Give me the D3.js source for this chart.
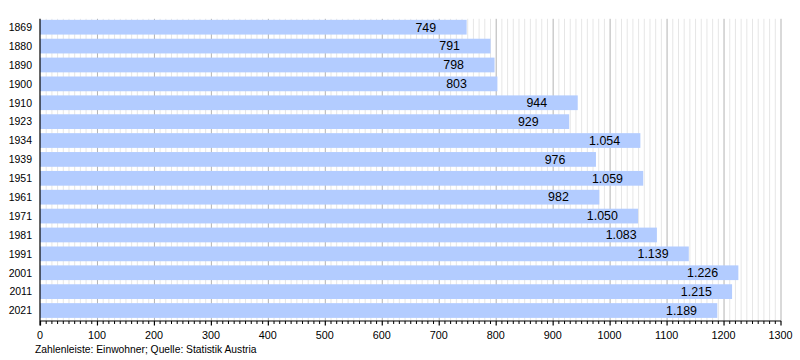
<!DOCTYPE html>
<html><head><meta charset="utf-8">
<script src="https://cdn.jsdelivr.net/npm/d3@7"></script>
<style>
html,body{margin:0;padding:0;background:#fff;}
svg{display:block;font-family:"Liberation Sans",Arial,Helvetica,sans-serif;}
</style></head>
<body>
<svg id="chart" width="800" height="360"></svg>
<script>
const years = ["1869","1880","1890","1900","1910","1923","1934","1939","1951","1961","1971","1981","1991","2001","2011","2021"];
const population = [749,791,798,803,944,929,1054,976,1059,982,1050,1083,1139,1226,1215,1189];
const xMajorTicks = [0,100,200,300,400,500,600,700,800,900,1000,1100,1200,1300];
const caption = "Zahlenleiste: Einwohner; Quelle: Statistik Austria";

(function(){
const svg = d3.select("#chart");
const mLeft = 40, mRight = 780.5, mTop = 18.8, mBottom = 321;
const x = d3.scaleLinear().domain([0,1300]).range([mLeft,mRight]);
const y = d3.scaleBand().domain(years).range([mTop,mBottom]).paddingInner(0.22).paddingOuter(0.11).align(0.25);
const de = d3.formatLocale({decimal:",",thousands:".",grouping:[3],currency:["","€"]});
const fmt = de.format(",");

const minor = d3.range(10,1300,10).filter(v => v % 100 !== 0);
svg.append("g").selectAll("line").data(minor).join("line")
  .attr("x1",d=>x(d)+0.5).attr("x2",d=>x(d)+0.5)
  .attr("y1",mTop).attr("y2",mBottom)
  .attr("stroke","#e6e6e6").attr("stroke-width",1);
svg.append("g").selectAll("line").data(xMajorTicks.filter(d=>d>0)).join("line")
  .attr("x1",d=>x(d)+0.5).attr("x2",d=>x(d)+0.5)
  .attr("y1",mTop).attr("y2",mBottom)
  .attr("stroke","#b3b3b3").attr("stroke-width",1);

svg.append("g").selectAll("rect").data(population).join("rect")
  .attr("x",x(0)).attr("y",(d,i)=>y(years[i]))
  .attr("width",d=>x(d)-x(0)).attr("height",y.bandwidth())
  .attr("fill","#b3ccff");

svg.append("g").selectAll("text").data(population).join("text")
  .attr("x",d=>x(d-90)).attr("y",(d,i)=>y(years[i])+y.bandwidth()/2+4.3)
  .attr("font-size","12.4px").attr("fill","#000")
  .text(d=>fmt(d));

svg.append("g").selectAll("text").data(years).join("text")
  .attr("x",32).attr("y",d=>y(d)+y.bandwidth()/2+3.8)
  .attr("text-anchor","end").attr("font-size","10.5px").attr("fill","#000")
  .text(d=>d);

svg.append("line").attr("x1",x(0)).attr("x2",x(0)).attr("y1",mTop).attr("y2",mBottom+4.5)
  .attr("stroke","#000").attr("stroke-width",1.2);
svg.append("line").attr("x1",x(0)).attr("x2",x(1300)+0.6).attr("y1",mBottom).attr("y2",mBottom)
  .attr("stroke","#000").attr("stroke-width",1.2);
svg.append("g").selectAll("line").data(minor).join("line")
  .attr("x1",d=>x(d)+0.5).attr("x2",d=>x(d)+0.5)
  .attr("y1",mBottom).attr("y2",mBottom+3)
  .attr("stroke","#000").attr("stroke-width",1);
svg.append("g").selectAll("line").data(xMajorTicks).join("line")
  .attr("x1",d=>x(d)+0.5).attr("x2",d=>x(d)+0.5)
  .attr("y1",mBottom).attr("y2",mBottom+4.5)
  .attr("stroke","#000").attr("stroke-width",1.2);
svg.append("g").selectAll("text").data(xMajorTicks).join("text")
  .attr("x",d=>x(d)).attr("y",338.5)
  .attr("text-anchor","middle").attr("font-size","10.8px").attr("fill","#000")
  .text(d=>d);

svg.append("text").attr("x",35).attr("y",352.5).attr("font-size","10.3px").attr("fill","#000").text(caption);
})();
</script>
</body></html>
